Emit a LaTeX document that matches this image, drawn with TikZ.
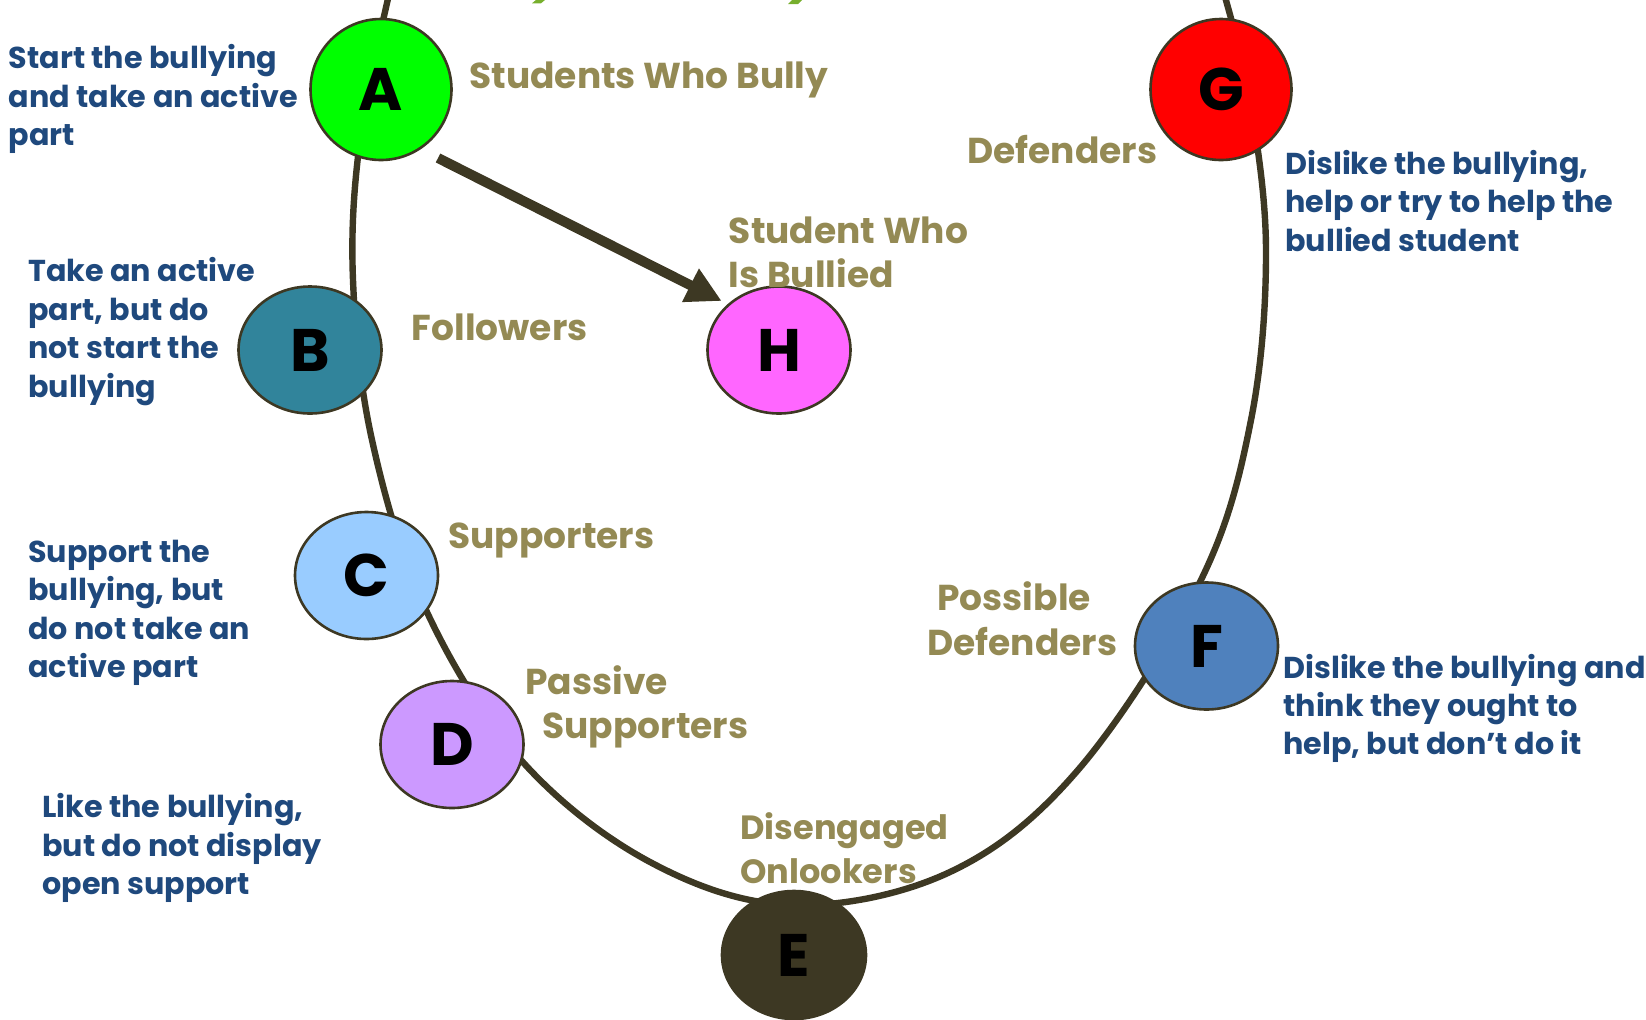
\documentclass[tikz,border=0pt]{standalone}
\usepackage{fontspec}
\setmainfont{Poppins}
\usetikzlibrary{arrows.meta,shapes.geometric}
\definecolor{olivetxt}{RGB}{148,138,84}
\definecolor{bluetxt}{RGB}{31,73,125}
\definecolor{curvecol}{RGB}{61,56,35}
\definecolor{titlegreen}{RGB}{119,175,45}
\definecolor{cA}{RGB}{0,255,0}
\definecolor{cB}{RGB}{49,132,155}
\definecolor{cC}{RGB}{153,204,255}
\definecolor{cD}{RGB}{204,153,255}
\definecolor{cF}{RGB}{79,129,189}
\definecolor{cG}{RGB}{255,0,0}
\definecolor{cH}{RGB}{255,102,255}
\begin{document}
\begin{tikzpicture}[x=0.5pt,y=-0.5pt,
  role/.style={ellipse, draw=curvecol, line width=1.3pt, inner sep=0pt,
    minimum width=71.5pt, minimum height=63.5pt,
    font=\fontsize{30}{30}\selectfont\bfseries},
  roleround/.style={role, minimum width=70.5pt, minimum height=70.5pt},
  rolelbl/.style={anchor=west, align=left, text=olivetxt, inner sep=0pt,
    font=\fontsize{18}{22.3}\selectfont\bfseries},
  desc/.style={anchor=west, align=left, text=bluetxt, inner sep=0pt,
    font=\fontsize{15.1}{19.2}\selectfont\bfseries},
  ring/.style={draw=curvecol, line width=3.2pt},
  push/.style={draw=curvecol, line width=5pt, -{Triangle[length=17.5pt,width=17.5pt]}}]
\useasboundingbox (0,0) rectangle (1646,1019);
% clipped title remnants
\fill[titlegreen] (536,0) -- (545,0) -- (541,3.3) -- (532,3.3) -- cycle;
\fill[titlegreen] (792,0) -- (802,0) -- (798,4) -- (788,4) -- cycle;
% the circle of roles
\begin{scope}
\clip (0,0) rectangle (1646,1019);
\draw[ring] plot[smooth, tension=0.6] coordinates {(390,-10) (360,140) (353,280) (372,440)
  (426,610) (521,760) (650,862) (792,905) (950,872) (1078,770) (1200,582)
  (1251,420) (1266,250) (1250,100) (1223,-10)};
\end{scope}
% arrow from bullies to bullied student
\coordinate (arrowstart) at (438,158);
\coordinate (arrowtip) at (721.7,301);
\draw[push] (arrowstart) -- (arrowtip);
% role circles
\node[roleround, fill=cA] (A) at (381,89.5) {A};
\node[role, fill=cB] (B) at (310,350) {B};
\node[role, fill=cC] (C) at (366.5,575.5) {C};
\node[role, fill=cD] (D) at (452,744.5) {D};
\node[role, fill=curvecol, draw=curvecol, minimum width=72pt, minimum height=64pt] (E) at (794,955) {E};
\node[role, fill=cF] (F) at (1206.5,646) {F};
\node[roleround, fill=cG] (G) at (1221,89.5) {G};
\node[role, fill=cH] (H) at (779,350) {H};
% role names
\node[rolelbl] (lA) at (469,80) {Students Who Bully};
\node[rolelbl] (lG) at (967,150) {Defenders};
\node[rolelbl] (lH) at (728.5,252.5) {Student Who\\Is Bullied};
\node[rolelbl] (lB) at (411.5,327.5) {Followers};
\node[rolelbl] (lC) at (448,540.6) {Supporters};
\node[rolelbl] (lD) at (525,707) {Passive\\\hspace*{8.5pt}Supporters};
\node[rolelbl] (lF) at (927,618.5) {\hspace*{5pt}Possible\\Defenders};
\node[rolelbl, font=\fontsize{16.8}{22.3}\selectfont\bfseries] (lE) at (740,848) {Disengaged\\Onlookers};
% descriptions
\node[desc] (dA) at (8.4,99.3) {Start the bullying\\and take an active\\part};
\node[desc] (dB) at (28,331.5) {Take an active\\part, but do\\not start the\\bullying};
\node[desc] (dC) at (28,613) {Support the\\bullying, but\\do not take an\\active part};
\node[desc] (dD) at (42,848) {Like the bullying,\\but do not display\\open support};
\node[desc] (dG) at (1285,201) {Dislike the bullying,\\help or try to help the\\bullied student};
\node[desc] (dF) at (1283,708.5) {Dislike the bullying and\\think they ought to\\help, but don’t do it};
\end{tikzpicture}
\end{document}
